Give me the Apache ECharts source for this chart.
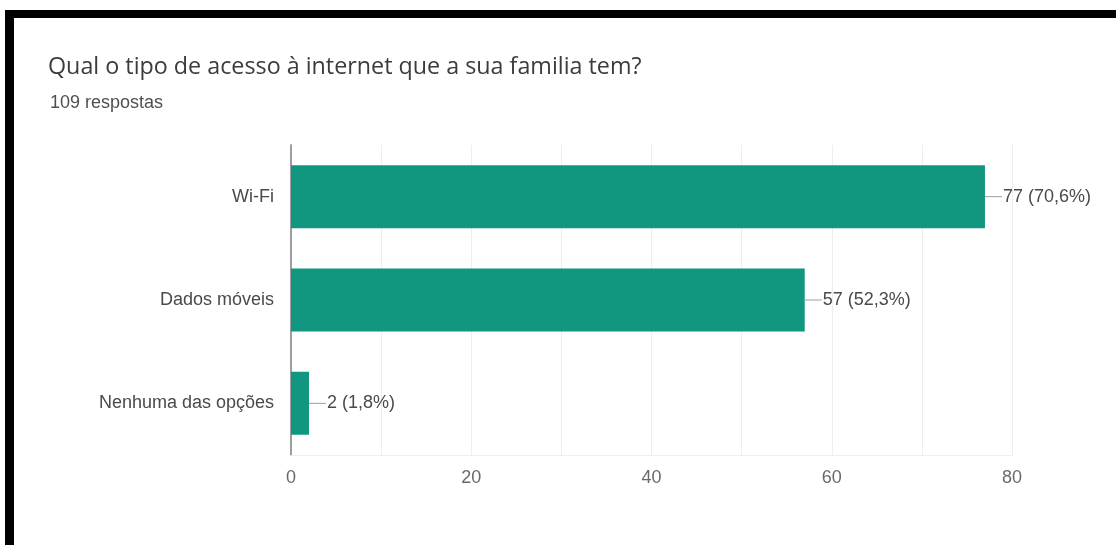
<!DOCTYPE html>
<html>
<head>
<meta charset="utf-8">
<script src="https://cdn.jsdelivr.net/npm/echarts@6/dist/echarts.min.js"></script>
<style>
  html, body { margin: 0; padding: 0; background: #fff; }
  #chart { width: 1116px; height: 545px; }
</style>
</head>
<body>
<div id="chart"></div>
<script>
// dados
var categories = ['Wi-Fi', 'Dados móveis', 'Nenhuma das opções'];
var counts = [77, 57, 2];
var percents = ['70,6%', '52,3%', '1,8%'];
var xTicks = [0, 20, 40, 60, 80];

var chart = echarts.init(document.getElementById('chart'));

var option = {
  animation: false,
  backgroundColor: '#fff',
  title: [
    {
      text: 'Qual o tipo de acesso à internet que a sua familia tem?',
      left: 43, top: 51,
      textStyle: { fontFamily: 'Open Sans', fontSize: 23.3, fontWeight: 'normal', color: '#3c3c3c' }
    },
    {
      text: '109 respostas',
      left: 45, top: 89,
      textStyle: { fontFamily: 'Liberation Sans', fontSize: 18, fontWeight: 'normal', color: '#505050' }
    }
  ],
  graphic: [
    // moldura preta da captura
    { type: 'rect', shape: { x: 5, y: 10, width: 1111, height: 8 }, style: { fill: '#000' } },
    { type: 'rect', shape: { x: 5, y: 10, width: 9, height: 535 }, style: { fill: '#000' } }
  ],
  grid: { left: 291, right: 104, top: 145, bottom: 90 },
  xAxis: {
    type: 'value',
    min: xTicks[0],
    max: xTicks[xTicks.length - 1],
    interval: 20,
    axisLine: { show: true, lineStyle: { color: '#eeeeee' } },
    axisTick: { show: false },
    minorTick: { show: false, splitNumber: 2 },
    splitLine: { lineStyle: { color: '#eeeeee' } },
    minorSplitLine: { show: true, lineStyle: { color: '#eeeeee' } },
    axisLabel: { margin: 14, fontFamily: 'Liberation Sans', fontSize: 18, color: '#6a6a6a' }
  },
  yAxis: {
    type: 'category',
    inverse: true,
    data: categories,
    axisLine: { show: true, lineStyle: { color: '#9e9e9e', width: 2 } },
    axisTick: { show: false },
    axisLabel: { margin: 17, fontFamily: 'Liberation Sans', fontSize: 18, color: '#4a4a4a' }
  },
  series: [
    {
      type: 'bar',
      data: counts,
      barWidth: '61%',
      itemStyle: { color: '#11967f' },
      label: {
        show: true,
        position: 'right',
        distance: 0,
        formatter: function (p) {
          return '{l|}{t|' + p.value + ' (' + percents[p.dataIndex] + ')}';
        },
        rich: {
          l: { width: 17, height: 1, backgroundColor: '#9e9e9e' },
          t: { fontFamily: 'Liberation Sans', fontSize: 18, color: '#4a4a4a', padding: [0, 0, 0, 1] }
        }
      }
    }
  ]
};

chart.setOption(option);
</script>
</body>
</html>
